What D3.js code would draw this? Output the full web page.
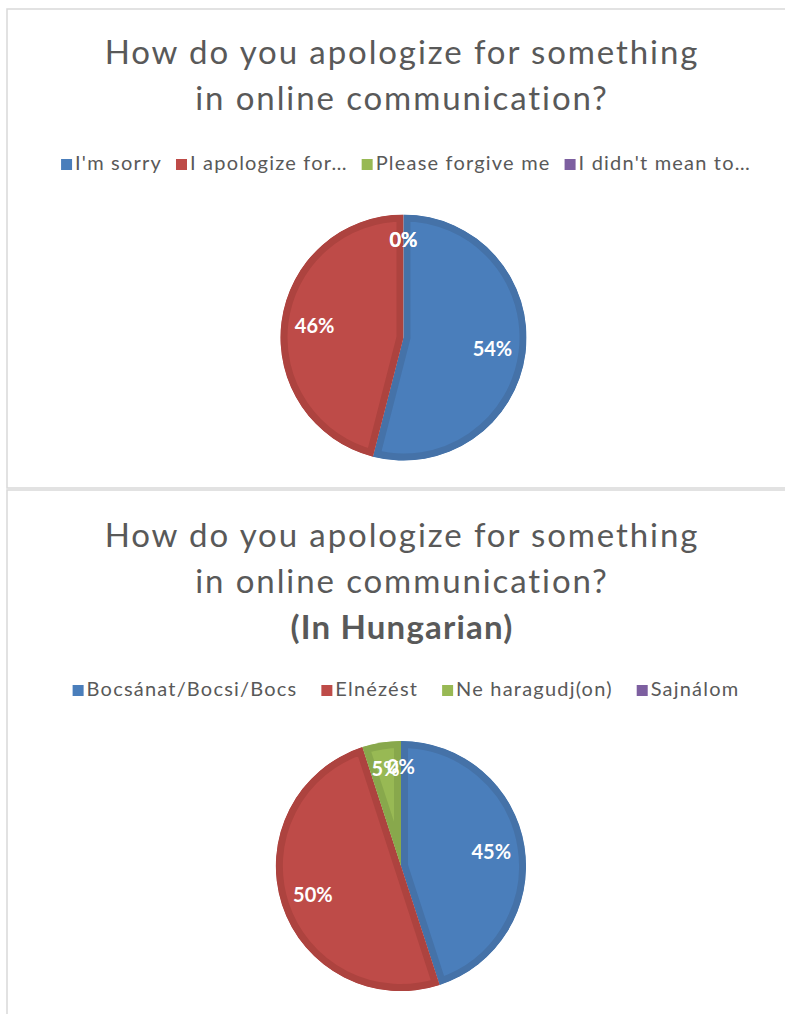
<!DOCTYPE html>
<html>
<head>
<meta charset="utf-8">
<script src="https://cdn.jsdelivr.net/npm/d3@7"></script>
<style>
  html, body { margin: 0; padding: 0; background: #ffffff; }
  svg { display: block; }
</style>
</head>
<body>
<svg id="chart" width="785" height="1014"></svg>
<script>
// Survey answers: how respondents apologize online
const englishCategories = ["I'm sorry", "I apologize for…", "Please forgive me", "I didn't mean to…"];
const englishValues = [54, 46, 0, 0];

const hungarianCategories = ["Bocsánat/Bocsi/Bocs", "Elnézést", "Ne haragudj(on)", "Sajnálom"];
const hungarianValues = [45, 50, 5, 0];

const titleLines = ["How do you apologize for something", "in online communication?"];
const hungarianSubtitle = "(In Hungarian)";

// Office-style series palette with a darker edge shade for each slice
const fillColors = ["#4a7ebb", "#be4b48", "#98b954", "#7d5fa0"];
const edgeColors = ["#4572a8", "#ad433f", "#88a84c", "#6e5290"];

const svg = d3.select("#chart");
const FONT = "Lato, 'Open Sans', sans-serif";

function drawPanel(g, opts) {
  const { y0, height, titles, bold, legendY, legendGap, categories, values, cx, cy, r, id } = opts;

  g.append("rect")
    .attr("x", 7).attr("y", y0)
    .attr("width", 800).attr("height", height)
    .attr("fill", "#ffffff")
    .attr("stroke", "#d9d9d9").attr("stroke-width", 1.5);

  titles.forEach((t, i) => {
    g.append("text")
      .attr("x", 402).attr("y", opts.titleY + i * 46)
      .attr("text-anchor", "middle")
      .attr("font-family", FONT)
      .attr("font-size", 33)
      .attr("letter-spacing", 1.9)
      .attr("fill", "#595959")
      .text(t);
  });
  if (bold) {
    g.append("text")
      .attr("x", 402).attr("y", opts.titleY + titles.length * 46)
      .attr("text-anchor", "middle")
      .attr("font-family", FONT)
      .attr("font-size", 33)
      .attr("font-weight", "bold")
      .attr("letter-spacing", 1.2)
      .attr("fill", "#595959")
      .text(bold);
  }

  // Legend: colored square + label, whole row centered
  const legend = g.append("g");
  const items = legend.selectAll("g.item").data(categories).join("g").attr("class", "item");
  items.append("rect")
    .attr("width", 11).attr("height", 11)
    .attr("y", -11)
    .attr("fill", (d, i) => fillColors[i]);
  items.append("text")
    .attr("x", 14)
    .attr("font-family", FONT)
    .attr("font-size", 20)
    .attr("letter-spacing", 1.2)
    .attr("fill", "#595959")
    .text(d => d);
  let x = 0;
  items.each(function () {
    const w = this.getBBox().width;
    d3.select(this).attr("transform", `translate(${x},${legendY})`);
    x += w + legendGap;
  });
  const total = x - legendGap;
  legend.attr("transform", `translate(${406 - total / 2},0)`);

  // Pie, clockwise from 12 o'clock
  const pie = d3.pie().sort(null).value(d => d.v);
  const arcs = pie(values.map((v, i) => ({ v, i })));
  const arc = d3.arc().innerRadius(0).outerRadius(r);
  const pieG = g.append("g").attr("transform", `translate(${cx},${cy})`);

  const defs = svg.append("defs");
  arcs.forEach((a, k) => {
    if (a.data.v <= 0) return;
    defs.append("clipPath").attr("id", `${id}-clip-${k}`)
      .append("path").attr("d", arc(a));
    pieG.append("path")
      .attr("d", arc(a))
      .attr("fill", fillColors[a.data.i])
      .attr("stroke", edgeColors[a.data.i])
      .attr("stroke-width", 14)
      .attr("stroke-linejoin", "round")
      .attr("clip-path", `url(#${id}-clip-${k})`);
  });

  // Percentage labels inside each slice
  arcs.forEach(a => {
    const mid = (a.startAngle + a.endAngle) / 2;
    const rr = r * (0.72 + 0.07 * Math.abs(Math.cos(mid)));
    pieG.append("text")
      .attr("x", Math.sin(mid) * rr)
      .attr("y", -Math.cos(mid) * rr)
      .attr("dy", "0.35em")
      .attr("text-anchor", "middle")
      .attr("font-family", FONT)
      .attr("font-size", 20)
      .attr("font-weight", "bold")
      .attr("fill", "#ffffff")
      .text(d3.format(".0f")(a.data.v) + "%");
  });
}

drawPanel(svg.append("g"), {
  id: "en", y0: 9, height: 479, titleY: 64, titles: titleLines, bold: null,
  legendY: 170, legendGap: 14, categories: englishCategories, values: englishValues,
  cx: 403.5, cy: 337.5, r: 123
});

drawPanel(svg.append("g"), {
  id: "hu", y0: 490, height: 540, titleY: 547, titles: titleLines, bold: hungarianSubtitle,
  legendY: 696, legendGap: 24, categories: hungarianCategories, values: hungarianValues,
  cx: 401, cy: 866, r: 125
});
</script>
</body>
</html>
